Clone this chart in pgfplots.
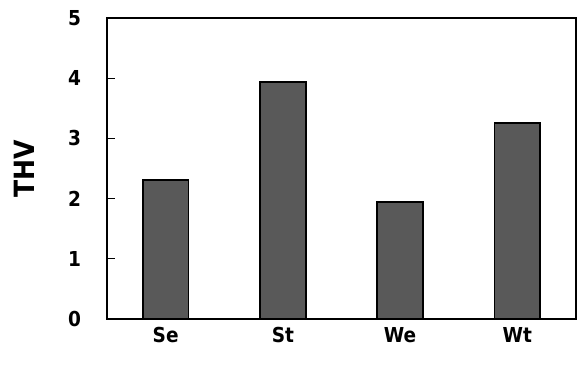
\documentclass[border=0pt]{standalone}
\usepackage{pgfplots}
\pgfplotsset{compat=1.18}
\usepackage{fontspec}
\setmainfont{DejaVu Sans Condensed}
\begin{document}
\begin{tikzpicture}[x=1bp,y=1bp]
\begin{axis}[
  at={(0,0)}, anchor=south west,
  scale only axis,
  width=351.75bp, height=225.75bp,
  xmin=-0.5, xmax=3.5,
  ymin=0, ymax=5,
  ytick={0,1,2,3,4,5},
  xtick={0,1,2,3},
  xticklabels={Se,St,We,Wt},
  extra x ticks={0.5,1.5,2.5},
  extra x tick labels={},
  extra x tick style={major tick length=5bp, tick style={black, line width=0.9bp}},
  major x tick style={draw=none},
  ytick pos=left,
  xtick pos=bottom,
  tick align=inside,
  major tick length=6bp,
  tick style={black, line width=0.9bp},
  axis line style={black, line width=0.9bp},
  /pgf/number format/assume math mode=true,
  ticklabel style={font=\fontsize{15.5}{17}\selectfont\bfseries},
  yticklabel style={xshift=-16bp},
  xticklabel style={yshift=3bp, text depth=0pt, text height=11bp},
  ylabel={THV},
  ylabel style={font=\fontsize{21}{23}\selectfont\bfseries,
    at={(axis description cs:-0.176,0.5)}, anchor=center},
  ybar, bar width=0.39,
]
\addplot[fill=black!65, draw=black, line width=1.2bp] coordinates {(0,2.31) (1,3.94) (2,1.94) (3,3.26)};
\end{axis}
\useasboundingbox (-80.25bp,-34.5bp) rectangle (352.5bp,239.25bp);
\end{tikzpicture}
\end{document}
